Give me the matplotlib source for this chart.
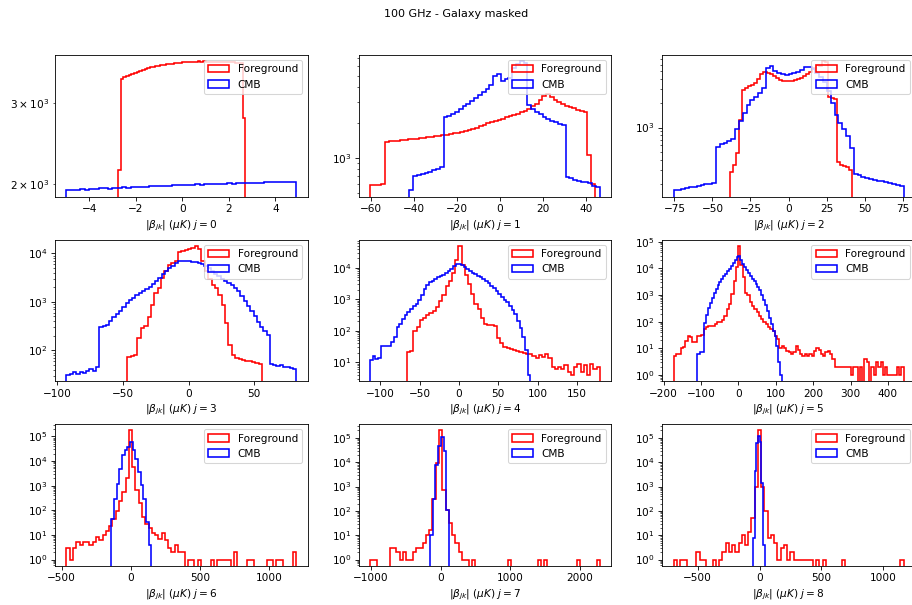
import numpy as np
import matplotlib
matplotlib.use("Agg")
import matplotlib.pyplot as plt

# needlet coefficient histograms: counts per bin, each with its (lo, hi) bin range

# j = 0
fg_range_0 = (-2.76, 2.71)
fg_counts_0 = [2150, 3385, 3420, 3440, 3465, 3480, 3500, 3515, 3530, 3550, 3560, 3575,
               3590, 3600, 3610, 3620, 3630, 3640, 3648, 3655, 3660, 3668, 3672, 3678,
               3682, 3688, 3690, 3694, 3696, 3698, 3700, 3698, 3700, 3697, 3695, 3696,
               3692, 3690, 3692, 3688, 3686, 3684, 3686, 3682, 3680, 3678, 3676, 2780]
cmb_range_0 = (-4.97, 4.89)
cmb_counts_0 = [1935, 1940, 1938, 1945, 1942, 1950, 1948, 1955, 1958, 1954, 1962, 1960,
                1966, 1964, 1970, 1968, 1974, 1972, 1978, 1976, 1980, 1984, 1982, 1988,
                1986, 1990, 1993, 1990, 1996, 1994, 1998, 2000, 1997, 2003, 2001, 2006,
                2004, 2009, 2007, 2012, 2010, 2014, 2012, 2018, 2015, 2020, 2016, 2022,
                2018, 2020]

# j = 1
fg_range_1 = (-60.2, 44.3)
fg_counts_1 = [585, 590, 592, 598, 1380, 1385, 1395, 1400, 1415, 1425, 1440, 1450,
               1460, 1470, 1485, 1495, 1510, 1525, 1535, 1555, 1570, 1590, 1615, 1640,
               1670, 1700, 1735, 1770, 1810, 1860, 1910, 1965, 2020, 2070, 2120, 2160,
               2210, 2260, 2320, 2380, 2450, 2530, 2620, 2740, 2880, 3100, 3350, 3480,
               3300, 3130, 2980, 2850, 2760, 2700, 2650, 2580, 2520, 2450, 1060, 600]
cmb_range_1 = (-42.0, 46.6)
cmb_counts_1 = [530, 705, 720, 735, 750, 768, 785, 805, 835, 2210, 2280, 2380,
                2480, 2600, 2750, 2900, 3060, 3240, 3420, 3620, 3850, 4200, 4950, 5150,
                4500, 4650, 4750, 5800, 6300, 6600, 6400, 2840, 2600, 2470, 2350, 2250,
                2150, 2080, 2010, 1960, 1910, 695, 670, 650, 640, 630, 620, 610,
                575, 570]

# j = 2
fg_range_2 = (-38.6, 41.9)
fg_counts_2 = [280, 340, 480, 1250, 2900, 3100, 3250, 3400, 3600, 4000, 4600, 4850,
               4800, 4600, 4350, 4100, 3900, 3800, 3750, 3750, 3800, 3880, 4000, 4150,
               4350, 4600, 4950, 5400, 5900, 5800, 6600, 6500, 2400, 2300, 2250, 370,
               345, 335, 320, 300]
cmb_range_2 = (-75.4, 75.6)
cmb_counts_2 = [166, 168, 172, 176, 182, 185, 188, 193, 198, 202, 206, 580,
                620, 650, 680, 720, 950, 1200, 1500, 1900, 2200, 2400, 2650, 3100,
                5500, 5800, 5000, 4750, 4600, 4500, 4550, 4700, 4900, 5200, 5600, 5700,
                5300, 4800, 4200, 3700, 2800, 2000, 1450, 1150, 950, 780, 560, 262,
                255, 245, 240, 232, 226, 220, 215, 210, 204, 200, 195, 190]

# j = 3
fg_range_3 = (-46.6, 55.9)
fg_counts_3 = [72, 78, 82, 180, 285, 320, 480, 850, 1500, 1950, 3100, 4400,
               5700, 6400, 6900, 10500, 11200, 11500, 12200, 13100, 14200, 12200, 6900, 4300,
               2900, 2270, 1930, 1400, 870, 360, 128, 80, 70, 66, 63, 61,
               59, 57, 55, 52]
cmb_range_3 = (-92.9, 81.8)
cmb_counts_3 = [31, 32, 35, 33, 36, 34, 38, 42, 37, 45, 300, 315,
                340, 410, 480, 560, 650, 800, 960, 1080, 1200, 1380, 1530, 1650,
                1800, 2000, 2300, 2700, 3100, 3700, 4300, 5000, 5600, 6300, 6900, 7000,
                6900, 6800, 6700, 6600, 6300, 6000, 5400, 4900, 4300, 3800, 3400, 3000,
                2650, 2450, 2250, 1950, 1650, 1350, 1050, 830, 650, 520, 380, 300,
                250, 205, 53, 50, 48, 49, 46, 45, 44, 42]

# j = 4
fg_range_4 = (-66.2, 179.3)
fg_counts_4 = [22, 23, 100, 135, 215, 260, 310, 370, 440, 560, 900, 1400,
               2600, 3800, 6800, 17000, 48500, 12000, 6000, 3000, 1500, 700, 480, 260,
               170, 158, 150, 145, 60, 42, 31, 28, 27, 25, 23, 22,
               20, 18, 19, 16, 14, 17, 15, 18, 14, 7, 6, 7,
               6, 8, 5, 4, 7, 9, 5, 8, 4, 9, 6, 7]
cmb_range_4 = (-113.0, 90.7)
cmb_counts_4 = [12, 16, 13, 14, 32, 33, 32, 34, 45, 62, 130, 160,
                245, 312, 400, 480, 600, 720, 950, 1400, 2100, 2900, 3400, 3900,
                4400, 4900, 5400, 5900, 6700, 7600, 9200, 11000, 12800, 13500, 12000, 10800,
                9300, 8000, 7000, 6200, 5600, 5000, 4500, 3900, 3200, 2700, 2200, 1800,
                1450, 1200, 980, 800, 600, 450, 330, 200, 120, 65, 25, 4]

# j = 5
fg_range_5 = (-173.0, 441.8)
fg_counts_5 = [5, 6, 6, 10, 11, 19, 28, 27, 17, 18, 29, 30,
               31, 55, 62, 68, 72, 70, 85, 95, 100, 120, 165, 300,
               480, 1100, 3500, 11500, 70000, 13000, 4700, 1150, 1050, 530, 380, 300,
               230, 170, 130, 100, 85, 65, 52, 45, 30, 22, 10, 12,
               10, 8, 7, 6, 7, 12, 9, 6, 5, 6, 5, 6,
               5, 8, 10, 9, 6, 5, 7, 8, 6, 4, 2, 2,
               2, 2, 2, 2, 2, 1, 2, 2, 0, 2, 0, 4,
               3, 0, 2, 1, 3, 2, 3, 1, 2, 1, 1, 1,
               1, 2, 1, 2]
cmb_range_5 = (-112.0, 117.0)
cmb_counts_5 = [6, 6, 7, 7, 90, 180, 330, 520, 800, 1200, 1700, 2300,
                3200, 4100, 5200, 6400, 8000, 9800, 12500, 15500, 20000, 26000, 29000, 20000,
                15000, 11000, 8500, 6700, 5300, 4200, 3300, 2600, 1950, 1500, 1000, 680,
                420, 250, 140, 85, 45, 28, 12, 3, 1]

# j = 6
fg_range_6 = (-466.0, 1196.0)
fg_counts_6 = [3, 1, 3, 5, 4, 5, 5, 4, 5, 8, 6, 10,
               14, 22, 45, 90, 230, 550, 2000, 175000, 5500, 700, 200, 55,
               28, 20, 12, 10, 7, 12, 6, 3, 2, 4, 2, 2,
               0, 1, 1, 0, 1, 0, 0, 0, 1, 0, 1, 1,
               1, 1, 0, 2, 0, 0, 0, 1, 1, 0, 0, 0,
               0, 1, 1, 0, 1, 1, 0, 0, 0, 2]
cmb_range_6 = (-141.0, 148.0)
cmb_counts_6 = [44, 290, 1170, 4800, 17000, 27000, 37000, 62000, 29500, 12300, 3500, 1070,
                290, 32, 4]

# j = 7
fg_range_7 = (-1014.0, 2286.0)
fg_counts_7 = [1, 1, 0, 0, 0, 0, 3, 3, 2, 1, 2, 1,
               1, 2, 3, 3, 5, 10, 16, 320, 9000, 200000, 720, 110,
               31, 10, 5, 2, 1, 1, 0, 1, 0, 0, 0, 0,
               0, 0, 0, 0, 0, 0, 1, 0, 0, 0, 0, 0,
               0, 0, 0, 1, 0, 1, 0, 0, 0, 0, 0, 0,
               0, 0, 0, 1, 0, 0, 0, 0, 0, 1]
cmb_range_7 = (-157.0, 119.0)
cmb_counts_7 = [10, 320, 7400, 48000, 110000, 28000, 110]

# j = 8
fg_range_8 = (-694.0, 1165.5)
fg_counts_8 = [1, 0, 1, 1, 0, 0, 0, 2, 1, 1, 0, 0,
               1, 0, 1, 2, 5, 2, 4, 2, 5, 10, 4, 14,
               50, 1000, 200000, 1000, 100, 8, 10, 5, 1, 3, 4, 1,
               2, 1, 1, 1, 1, 1, 1, 0, 1, 0, 1, 0,
               0, 0, 0, 0, 1, 0, 0, 0, 0, 0, 0, 0,
               0, 0, 0, 0, 0, 0, 0, 0, 0, 0, 1]
cmb_range_8 = (-53.0, 43.0)
cmb_counts_8 = [8, 4300, 60000, 120000, 70000, 1400, 4]

fg_ranges = [fg_range_0, fg_range_1, fg_range_2, fg_range_3, fg_range_4,
             fg_range_5, fg_range_6, fg_range_7, fg_range_8]
fg_counts = [fg_counts_0, fg_counts_1, fg_counts_2, fg_counts_3, fg_counts_4,
             fg_counts_5, fg_counts_6, fg_counts_7, fg_counts_8]
cmb_ranges = [cmb_range_0, cmb_range_1, cmb_range_2, cmb_range_3, cmb_range_4,
              cmb_range_5, cmb_range_6, cmb_range_7, cmb_range_8]
cmb_counts = [cmb_counts_0, cmb_counts_1, cmb_counts_2, cmb_counts_3, cmb_counts_4,
              cmb_counts_5, cmb_counts_6, cmb_counts_7, cmb_counts_8]


def step_hist(ax, rng, counts, color, label):
    edges = np.linspace(rng[0], rng[1], len(counts) + 1)
    centers = 0.5 * (edges[:-1] + edges[1:])
    ax.hist(centers, bins=edges, weights=counts, histtype="step",
            color=color, log=True, label=label, linewidth=1.5)


fig, axes = plt.subplots(3, 3, figsize=(12, 605 / 76), dpi=76)
fig.subplots_adjust(left=0.0603, right=1.0033, bottom=0.0645, top=0.9091,
                    wspace=0.2018, hspace=0.3)

for j, ax in enumerate(axes.flat):
    step_hist(ax, fg_ranges[j], fg_counts[j], "r", "Foreground")
    step_hist(ax, cmb_ranges[j], cmb_counts[j], "b", "CMB")
    ax.set_xlabel(r"$|\beta_{jk}|$ $(\mu K)$ $j = %d$" % j)
    ax.legend(loc="upper right")

fig.suptitle("100 GHz - Galaxy masked", y=0.985, fontsize=10.5)
fig.savefig("out.png", dpi=76)
